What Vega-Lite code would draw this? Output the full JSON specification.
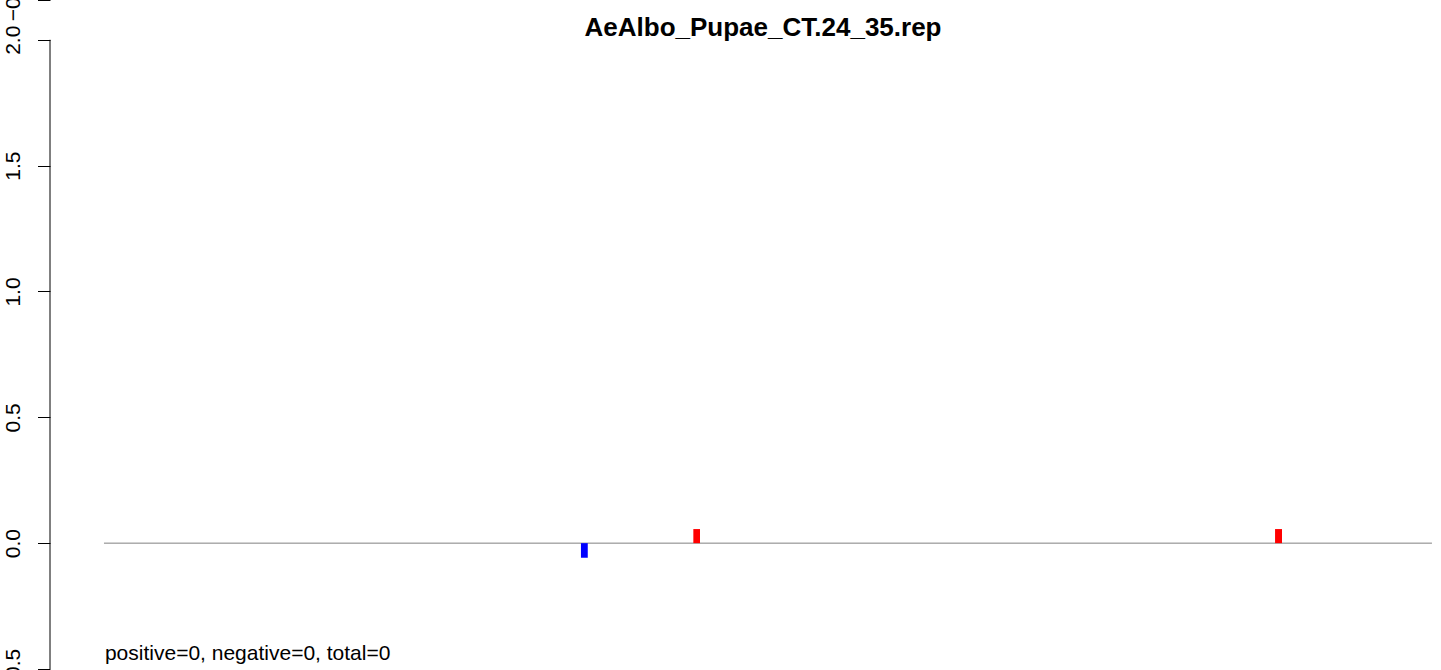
{
  "$schema": "https://vega.github.io/schema/vega-lite/v6.json",
  "width": 1391,
  "height": 669,
  "autosize": {"type": "none"},
  "padding": {"left": 50, "top": 0, "right": 0, "bottom": 1},
  "background": "white",
  "config": {
    "view": {"stroke": null},
    "font": "Liberation Sans",
    "axis": {"grid": false, "labelFont": "Liberation Sans", "labelFontSize": 21, "labelColor": "black", "tickColor": "black", "tickWidth": 1}
  },
  "datasets": {
    "bars": [
      {"start": 38.17, "end": 38.66, "value": -0.058, "base": 0, "dir": "down"},
      {"start": 46.25, "end": 46.73, "value": 0.056, "base": 0, "dir": "up"},
      {"start": 88.07, "end": 88.57, "value": 0.056, "base": 0, "dir": "up"}
    ],
    "baseline": [{"start": 3.88, "end": 99.35, "value": 0}],
    "yaxisline": [{"x": 0, "lo": -0.5, "hi": 2.0}],
    "title": [{"x": 51.26, "y": 2.015, "label": "AeAlbo_Pupae_CT.24_35.rep"}],
    "note": [{"x": 3.95, "y": -0.465, "label": "positive=0, negative=0, total=0"}]
  },
  "layer": [
    {
      "data": {"name": "baseline"},
      "mark": {"type": "rule", "color": "#808080", "strokeWidth": 1},
      "encoding": {
        "x": {"field": "start", "type": "quantitative", "scale": {"domain": [0, 100], "nice": false, "zero": false}, "axis": null},
        "x2": {"field": "end"},
        "y": {"field": "value", "type": "quantitative",
          "scale": {"domain": [-0.5, 2.158], "nice": false, "zero": false},
          "axis": {"values": [-0.5, 0, 0.5, 1, 1.5, 2, 2.158], "domain": false, "tickSize": 12.5, "labelPadding": 14, "labelAngle": 270, "labelAlign": "center", "labelBaseline": "bottom", "labelOverlap": false, "labelBound": false, "labelFlush": false,
            "labelExpr": "datum.value > 2.1 ? '\u22120.5' : format(datum.value, '.1f')", "title": null}}
      }
    },
    {
      "data": {"name": "yaxisline"},
      "mark": {"type": "rule", "color": "black", "strokeWidth": 1},
      "encoding": {
        "x": {"field": "x", "type": "quantitative"},
        "y": {"field": "lo", "type": "quantitative"},
        "y2": {"field": "hi"}
      }
    },
    {
      "data": {"name": "bars"},
      "mark": {"type": "rect"},
      "encoding": {
        "x": {"field": "start", "type": "quantitative"},
        "x2": {"field": "end"},
        "y": {"field": "value", "type": "quantitative"},
        "y2": {"field": "base"},
        "color": {"field": "dir", "type": "nominal", "scale": {"domain": ["up", "down"], "range": ["#FF0000", "#0000FF"]}, "legend": null}
      }
    },
    {
      "data": {"name": "title"},
      "mark": {"type": "text", "fontSize": 26, "fontWeight": "bold", "align": "center", "baseline": "alphabetic", "color": "black"},
      "encoding": {
        "x": {"field": "x", "type": "quantitative"},
        "y": {"field": "y", "type": "quantitative"},
        "text": {"field": "label"}
      }
    },
    {
      "data": {"name": "note"},
      "mark": {"type": "text", "fontSize": 21, "align": "left", "baseline": "alphabetic", "color": "black"},
      "encoding": {
        "x": {"field": "x", "type": "quantitative"},
        "y": {"field": "y", "type": "quantitative"},
        "text": {"field": "label"}
      }
    }
  ]
}
